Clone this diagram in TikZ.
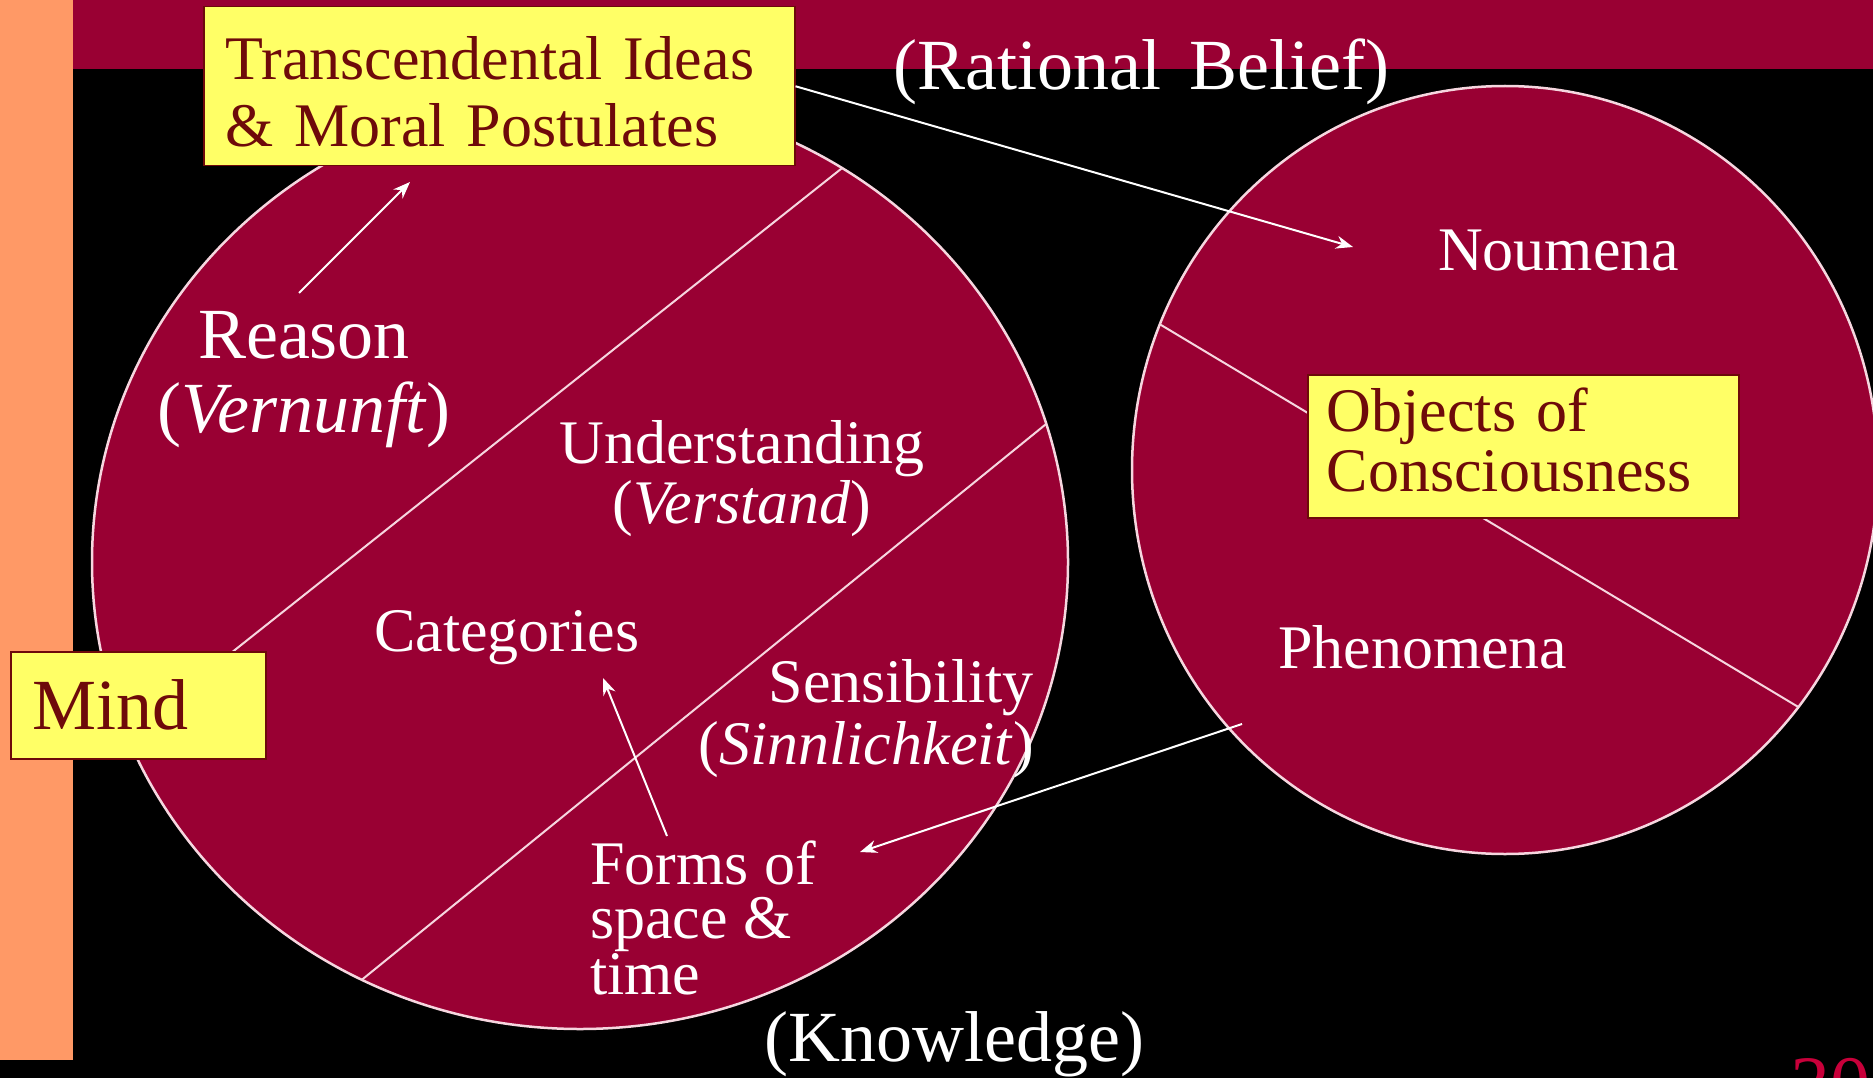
\documentclass[tikz,border=0pt]{standalone}
\usepackage{fontspec}
\setmainfont{Liberation Serif}
\usetikzlibrary{arrows.meta}
\definecolor{crim}{HTML}{990033}
\definecolor{orng}{HTML}{FF9966}
\definecolor{ylw}{HTML}{FFFF66}
\definecolor{boxtext}{HTML}{6E0A0A}
\definecolor{pinkline}{HTML}{F6D6DF}
\definecolor{numred}{HTML}{C8003A}
\newcommand\kfbig{\fontsize{72}{74}\selectfont}
\newcommand\kfmid{\fontsize{62}{62}\selectfont}
\newcommand\kfmidT{\fontsize{62}{67}\selectfont}
\newcommand\kfmidO{\fontsize{62}{60}\selectfont}
\newcommand\kfmidF{\fontsize{62}{54}\selectfont}
\newcommand\kfnum{\fontsize{80}{80}\selectfont}
\begin{document}
\begin{tikzpicture}[x=1pt,y=-1pt,
  ybox/.style={draw=boxtext, line width=1.5pt, fill=ylw, text=boxtext, inner ysep=0pt, align=left},
  wlabel/.style={text=white, inner sep=0pt},
  conn/.style={draw=white, line width=2pt, -{Stealth[length=17pt,width=13pt]}},
  divider/.style={draw=pinkline, line width=2pt},
  sphere/.style={draw=pinkline, line width=2.5pt}]

\useasboundingbox (0,0) rectangle (1873,1078);
\fill[black] (0,0) rectangle (1873,1078);
\fill[crim] (73,0) rectangle (1873,69);
\fill[orng] (0,0) rectangle (73,1060);

% left sphere (Mind)
\fill[crim] (580,562) ellipse [x radius=488pt, y radius=467pt];
\begin{scope}
  \clip (580,562) ellipse [x radius=488pt, y radius=467pt];
  \draw[divider] (100,757) -- (880,138);
  \draw[divider] (340,997.5) -- (1080,396.5);
\end{scope}
\draw[sphere] (580,562) ellipse [x radius=488pt, y radius=467pt];

% right sphere (Objects)
\fill[crim] (1505,470) ellipse [x radius=373pt, y radius=384pt];
\begin{scope}
  \clip (1505,470) ellipse [x radius=373pt, y radius=384pt];
  \draw[divider] (1120,300.4) -- (1840,732);
\end{scope}
\draw[sphere] (1505,470) ellipse [x radius=373pt, y radius=384pt];

% yellow boxes
\node[ybox, anchor=north west, text width=547pt, inner xsep=22pt, minimum height=159pt, font=\kfmidT] (trans) at (203,6)
  {\rule{0pt}{55pt}\mbox{Transcendental\hspace{21pt}Ideas}\\\mbox{\& Moral Postulates}};
\node[ybox, anchor=north west, text width=393pt, inner xsep=19pt, minimum height=143pt, font=\kfmidO] (objects) at (1307,374)
  {\mbox{Objects of}\\\mbox{Consciousness}\rule[-13pt]{0pt}{13pt}};
\node[ybox, anchor=north west, text width=211pt, inner xsep=22pt, minimum height=107pt, font=\kfbig] (mind) at (10,651)
  {Mind};

% white labels (multi-line nodes: base = baseline of the last line)
\node[wlabel, anchor=base west, font=\kfbig] (rational) at (893,90) {(Rational\hspace{28pt}Belief)};
\node[wlabel, anchor=base west, font=\kfmid] (noumena) at (1438,270) {Noumena};
\node[wlabel, anchor=base west, font=\kfmid] (phen) at (1278,668) {Phenomena};
\node[wlabel, align=center, anchor=base, font=\kfbig] (reason) at (304,432) {Reason\\(\textit{Vernunft})};
\node[wlabel, align=center, anchor=base, font=\kfmidO] (under) at (742,523) {Understanding\\(\textit{Verstand})};
\node[wlabel, anchor=base west, font=\kfmid] (cat) at (374,651) {Categories};
\node[wlabel, align=right, anchor=base east, font=\kfmid] (sens) at (1034,764) {Sensibility\\(\textit{Sinnlichkeit})};
\node[wlabel, align=left, anchor=base west, font=\kfmidF] (forms) at (590,994) {Forms of\\space \&\\time};
\node[wlabel, anchor=base west, font=\kfbig] (know) at (764,1061) {(Knowledge)};
\node[text=numred, inner sep=0pt, anchor=base west, font=\kfnum] (pnum) at (1790,1111) {30};

% connectors
\coordinate (r1) at (299,293);
\coordinate (t1) at (410,182);
\draw[conn] (r1) -- (t1);
\coordinate (n1) at (1353,247);
\draw[conn] (trans.east) -- (n1);
\coordinate (p1) at (1242,724);
\coordinate (f1) at (860,852);
\draw[conn] (p1) -- (f1);
\coordinate (f2) at (667,836);
\coordinate (c1) at (603,678);
\draw[conn] (f2) -- (c1);
\end{tikzpicture}
\end{document}
